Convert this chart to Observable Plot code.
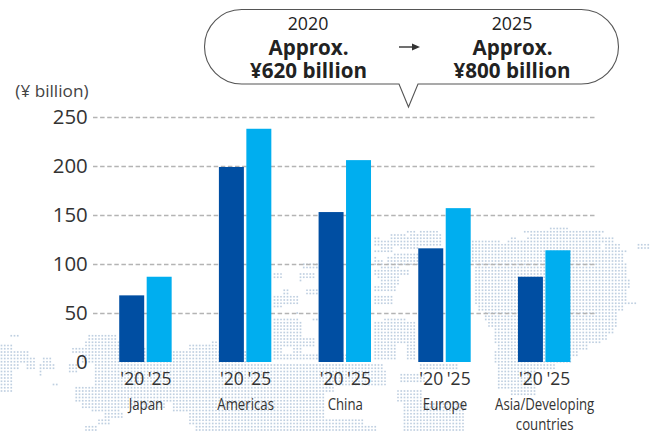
<!DOCTYPE html>
<html><head><meta charset="utf-8">
<script src="https://cdn.jsdelivr.net/npm/d3@7"></script>
<script src="https://cdn.jsdelivr.net/npm/@observablehq/plot@0.6"></script>
<style>
html,body{margin:0;padding:0;background:#fff}
#wrap{position:relative;width:655px;height:432px;overflow:hidden}
#wrap svg{position:absolute;left:0;top:0}
</style></head><body><div id="wrap"></div>
<script>
const regions = ["Japan","Americas","China","Europe","Asia/Developing countries"];
const years = ["'20","'25"];
const values2020 = [68,199,153,116,87];
const values2025 = [87,238,206,157,114];
const yTicks = [0,50,100,150,200,250];
const calloutLeft = {year:"2020", approx:"Approx.", amount:"¥620 billion"};
const calloutRight = {year:"2025", approx:"Approx.", amount:"¥800 billion"};
const unitLabel = "(¥ billion)";

// Dotted world map backdrop: [top, bottom, left, right] land bands
const mapBands = [
 [333,336,10,18],[343,350,0,12],[350,357,0,30],[357,363,0,35],[357,363,42,53],
 [363,370,0,20],[363,370,25,35],[363,370,38,55],[370,376,0,14],[370,376,37,43],[377,392,0,12],[384,387,50,58],
 [331,334,103,105],[335,340,88,118],[340,347,83,144],[347,350,72,146],[340,345,210,216],[345,350,187,218],
 [350,354,70,250],[354,362,80,250],[364,372,67,77],
 [364,370,93,382],[370,385,93,385],[385,393,73,335],[393,403,73,325],[403,407,80,165],[403,407,173,325],
 [407,412,90,120],[407,412,173,325],[412,419,103,122],[412,419,187,325],[419,426,97,110],[419,426,187,362],[426,433,83,97],[426,433,195,375],
 [263,270,303,317],[273,280,272,282],[273,280,300,315],[280,283,300,302],[288,295,283,288],[288,295,305,317],
 [295,303,272,298],[303,307,272,282],[312,314,296,298],[317,322,272,288],[317,322,290,297],[317,322,310,317],
 [322,337,272,303],[337,347,272,315],[347,353,272,282],[347,353,292,302],[353,361,272,346],
 [230,233,407,415],[230,233,420,438],[233,237,390,405],[233,237,410,442],[237,240,373,380],[237,240,390,442],[240,247,373,442],
 [247,250,380,392],[247,250,400,418],[250,254,373,392],[254,257,393,418],[257,260,373,378],[257,260,387,418],[260,265,373,383],[260,265,387,418],
 [265,270,380,398],[270,275,373,408],[275,280,377,398],[280,284,380,398],[284,291,373,395],
 [296,306,373,392],[317,322,383,405],[322,345,373,415],[345,361,373,395],[345,361,405,415],
 [364,370,418,458],[373,383,400,425],[390,403,395,422],[403,433,402,465],
 [227,230,550,568],[230,233,522,605],[233,237,530,600],[237,240,510,515],[237,240,527,615],
 [240,243,472,500],[240,243,505,615],[243,248,472,600],[243,248,605,620],[243,248,637,648],
 [248,253,472,627],[253,263,472,622],[263,277,475,627],[277,287,475,630],[287,300,475,627],
 [300,303,475,635],[303,310,477,623],[310,320,483,617],[320,327,487,617],[327,333,492,613],[333,340,492,607],
 [340,343,495,600],[343,350,497,587],[350,357,493,577],[357,362,493,570],
 [364,370,497,555],[370,390,497,537],[390,397,510,537]
];
const mapDotColor = "#bfcfe0";
const inBand = (x,y) => mapBands.some(b => y>=b[0] && y<b[1] && x>=b[2] && x<b[3]);
const mapDots = [];
for (const y of d3.range(228,433,3.25)) for (const x of d3.range(1,655,3.25)) if (inBand(x,y)) mapDots.push({x,y});

const table = regions.flatMap((r,i)=>[
  {region:r, year:years[0], value:values2020[i]},
  {region:r, year:years[1], value:values2025[i]}
]);

const font = "'Open Sans','Noto Sans',sans-serif";
const ink = "#333";

// callout bubble drawn through the backdrop's scales
function bubble(index, {x, y}) {
  const L=x(204.5),R=x(618.5),T=y(9.5),B=y(84),r=(B-T)/2;
  const d = `M${L+r},${T}H${R-r}A${r},${r} 0 0 1 ${R-r},${B}H${x(418)}L${x(408.5)},${y(107)}L${x(399)},${B}H${L+r}A${r},${r} 0 0 1 ${L+r},${T}Z`;
  const g = d3.create("svg:g");
  g.append("path").attr("d",d).attr("fill","#fff").attr("stroke","#555").attr("stroke-width",1.1);
  g.append("path").attr("d",`M${x(399)},${y(47)}H${x(414)}`).attr("stroke","#333").attr("stroke-width",1.4);
  g.append("path").attr("d",`M${x(420)},${y(47)}L${x(412)},${y(43.5)}V${y(50.5)}Z`).attr("fill","#333");
  return g.node();
}

const backdrop = Plot.plot({
  width:655,height:432,margin:0,
  x:{domain:[0,655],range:[0,655],axis:null},
  y:{domain:[0,432],range:[0,432],axis:null},
  style:{background:"transparent",fontFamily:font},
  marks:[
    Plot.dot(mapDots,{x:"x",y:"y",symbol:"square",r:0.95,fill:mapDotColor}),
    bubble,
    Plot.text([calloutLeft.year],{x:307.5,y:24,text:d=>d,fontSize:17.8,fill:"#222"}),
    Plot.text([calloutRight.year],{x:511.5,y:24,text:d=>d,fontSize:17.8,fill:"#222"}),
    Plot.text([calloutLeft.approx],{x:308,y:47.5,text:d=>d,fontSize:20.6,fontWeight:700,fill:"#222"}),
    Plot.text([calloutRight.approx],{x:512,y:47.5,text:d=>d,fontSize:20.6,fontWeight:700,fill:"#222"}),
    Plot.text([calloutLeft.amount],{x:308,y:71,text:d=>d,fontSize:20.6,fontWeight:700,fill:"#222"}),
    Plot.text([calloutRight.amount],{x:511.5,y:71,text:d=>d,fontSize:20.6,fontWeight:700,fill:"#222"}),
    Plot.text([unitLabel],{x:88,y:90.5,text:d=>d,textAnchor:"end",fontSize:17.2,fill:"#444"})
  ]
});

// dashed gridlines share the chart's y scale, spanning the full width under the bars
const grid = Plot.plot({
  width:655,height:432,
  marginTop:117,marginBottom:70,marginLeft:93,marginRight:60,
  style:{background:"transparent"},
  x:{axis:null},
  y:{domain:[0,250],axis:null},
  marks:[Plot.ruleY(yTicks.filter(d=>d>0),{stroke:"#b4b4b4",strokeWidth:1.3,strokeDasharray:"4.5,2.6"})]
});

const chart = Plot.plot({
  width:655,height:432,
  marginTop:117,marginBottom:70,marginLeft:95.6,marginRight:61,
  style:{background:"transparent",fontFamily:font},
  fx:{domain:regions,paddingInner:0.474,paddingOuter:0.237,label:null,axis:null,round:false},
  x:{domain:years,paddingInner:0.09,paddingOuter:0,label:null,axis:null,round:false},
  y:{domain:[0,250],label:null,axis:null},
  color:{domain:years,range:["#004ea2","#00aeef"]},
  marks:[
    Plot.barY(table,{fx:"region",x:"year",y:"value",fill:"year"}),
    Plot.ruleY([0],{fx:d=>null,stroke:"#666",strokeWidth:1.5,insetLeft:-25,insetRight:-26}),
    Plot.axisY(yTicks,{anchor:"left",tickSize:0,tickPadding:32,fontSize:20.4,fill:ink,label:null}),
    Plot.axisX({anchor:"bottom",tickSize:0,tickPadding:10,fontSize:17.5,fill:ink,label:null}),
    Plot.axisFx({anchor:"bottom",tickSize:0,tickPadding:34,fontSize:17,lineHeight:1.15,fill:ink,label:null,
      tickFormat:d=>d==="Asia/Developing countries"?"Asia/Developing\ncountries":d})
  ]
});

const wrap = document.getElementById("wrap");
wrap.append(backdrop, grid, chart);
// condensed region labels
d3.select(chart).selectAll("[aria-label='fx-axis tick label'] text").each(function(){
  const spans = this.querySelectorAll("tspan");
  for (const el of (spans.length?spans:[this])) {
    el.setAttribute("textLength", el.getComputedTextLength()*0.777);
    el.setAttribute("lengthAdjust","spacingAndGlyphs");
  }
});
</script></body></html>
